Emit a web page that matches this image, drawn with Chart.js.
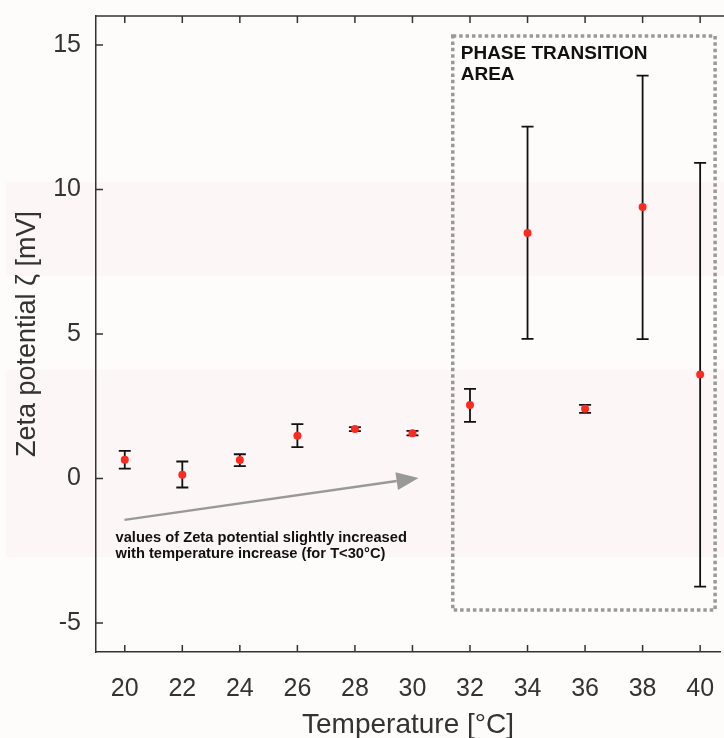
<!DOCTYPE html>
<html>
<head>
<meta charset="utf-8">
<script src="https://cdn.jsdelivr.net/npm/chart.js@4/dist/chart.umd.min.js"></script>
<style>
  html, body { margin: 0; padding: 0; background: #fdfcfb; }
  canvas { display: block; }
</style>
</head>
<body>
<canvas id="zetaChart" width="724" height="738"></canvas>
<script>
// temperature [°C] and zeta potential [mV], with error bar ends
const temps    = [20, 22, 24, 26, 28, 30, 32, 34, 36, 38, 40];
const zeta     = [0.65, 0.13, 0.64, 1.48, 1.71, 1.57, 2.54, 8.49, 2.41, 9.39, 3.6];
const zetaLow  = [0.34, -0.31, 0.43, 1.09, 1.64, 1.49, 1.96, 4.83, 2.27, 4.82, -3.74];
const zetaHigh = [0.96, 0.59, 0.84, 1.88, 1.78, 1.65, 3.1, 12.17, 2.55, 13.94, 10.92];

const xTicks = [20, 22, 24, 26, 28, 30, 32, 34, 36, 38, 40];
const yTicks = [-5, 0, 5, 10, 15];

const axisColor = '#333333';
const fontFamily = '"Liberation Sans", Arial, Helvetica, sans-serif';

const decorPlugin = {
  id: 'decor',
  beforeDraw(chart) {
    const ctx = chart.ctx;
    const y = chart.scales.y;
    ctx.save();
    ctx.fillStyle = '#fdfcfb';
    ctx.fillRect(0, 0, chart.width, chart.height);
    // faint pink bands
    ctx.fillStyle = '#fcf6f6';
    [[10.26, 7.01], [3.76, -2.71]].forEach(([a, b]) => {
      const y1 = y.getPixelForValue(a), y2 = y.getPixelForValue(b);
      ctx.fillRect(6, y1, chart.width, y2 - y1);
    });
    ctx.restore();
  },
  beforeDatasetsDraw(chart) {
    const ctx = chart.ctx;
    const x = chart.scales.x, y = chart.scales.y;
    ctx.save();
    ctx.strokeStyle = '#111111';
    ctx.lineWidth = 1.8;
    temps.forEach((t, i) => {
      const px = x.getPixelForValue(t);
      const lo = y.getPixelForValue(zetaLow[i]);
      const hi = y.getPixelForValue(zetaHigh[i]);
      ctx.beginPath();
      ctx.moveTo(px, lo); ctx.lineTo(px, hi);
      ctx.moveTo(px - 6, lo); ctx.lineTo(px + 6, lo);
      ctx.moveTo(px - 6, hi); ctx.lineTo(px + 6, hi);
      ctx.stroke();
    });
    ctx.restore();
  },
  afterDraw(chart) {
    const ctx = chart.ctx;
    const x = chart.scales.x, y = chart.scales.y;
    const area = chart.chartArea;
    ctx.save();

    // top border and inward tick marks
    ctx.strokeStyle = axisColor;
    ctx.lineWidth = 1.5;
    ctx.beginPath();
    ctx.moveTo(area.left, area.top); ctx.lineTo(chart.width, area.top);
    xTicks.forEach(v => {
      const px = x.getPixelForValue(v);
      ctx.moveTo(px, area.bottom); ctx.lineTo(px, area.bottom - 7);
      ctx.moveTo(px, area.top); ctx.lineTo(px, area.top + 7);
    });
    yTicks.forEach(v => {
      const py = y.getPixelForValue(v);
      ctx.moveTo(area.left, py); ctx.lineTo(area.left + 7, py);
    });
    ctx.stroke();

    // dotted box around the phase transition area
    ctx.strokeStyle = '#999999';
    ctx.lineWidth = 3.5;
    ctx.setLineDash([3.5, 2.9]);
    const bx1 = x.getPixelForValue(31.4), bx2 = x.getPixelForValue(40.52);
    const by1 = y.getPixelForValue(15.31), by2 = y.getPixelForValue(-4.55);
    ctx.strokeRect(bx1, by1, bx2 - bx1, by2 - by1);
    ctx.setLineDash([]);

    // arrow
    const ax1 = x.getPixelForValue(19.99), ay1 = y.getPixelForValue(-1.43);
    const ax2 = x.getPixelForValue(30.21), ay2 = y.getPixelForValue(0.02);
    const ang = Math.atan2(ay2 - ay1, ax2 - ax1);
    const headLen = 22, headW = 9;
    const bxh = ax2 - headLen * Math.cos(ang), byh = ay2 - headLen * Math.sin(ang);
    ctx.strokeStyle = '#999999';
    ctx.fillStyle = '#999999';
    ctx.lineWidth = 2.5;
    ctx.beginPath();
    ctx.moveTo(ax1, ay1); ctx.lineTo(bxh, byh);
    ctx.stroke();
    ctx.beginPath();
    ctx.moveTo(ax2, ay2);
    ctx.lineTo(bxh + headW * Math.sin(ang), byh - headW * Math.cos(ang));
    ctx.lineTo(bxh - headW * Math.sin(ang), byh + headW * Math.cos(ang));
    ctx.closePath();
    ctx.fill();

    // texts
    ctx.fillStyle = '#111111';
    ctx.textBaseline = 'alphabetic';
    ctx.textAlign = 'left';
    ctx.font = 'bold 19px ' + fontFamily;
    ctx.fillText('PHASE TRANSITION', bx1 + 8, by1 + 23);
    ctx.fillText('AREA', bx1 + 8, by1 + 44);
    ctx.font = 'bold 14.7px ' + fontFamily;
    ctx.fillText('values of Zeta potential slightly increased', ax1 - 9, ay1 + 22);
    ctx.fillText('with temperature increase (for T<30°C)', ax1 - 9, ay1 + 38);
    ctx.restore();
  }
};

new Chart(document.getElementById('zetaChart'), {
  type: 'scatter',
  data: {
    datasets: [{
      data: temps.map((t, i) => ({ x: t, y: zeta[i] })),
      backgroundColor: '#ff2a1f',
      borderWidth: 0,
      pointRadius: 4,
      pointHoverRadius: 4,
    }]
  },
  options: {
    responsive: false,
    animation: false,
    devicePixelRatio: 1,
    layout: { padding: { top: 16, right: 0, left: 0, bottom: 0 } },
    plugins: { legend: { display: false }, tooltip: { enabled: false } },
    scales: {
      x: {
        type: 'linear',
        min: 19,
        max: 40.69,
        afterBuildTicks: s => { s.ticks = xTicks.map(v => ({ value: v })); },
        afterFit: s => { s.height = 86; s.paddingLeft = 0; s.paddingRight = 0; },
        grid: { display: false },
        border: { display: true, color: axisColor, width: 1.5 },
        ticks: { color: axisColor, font: { family: fontFamily, size: 25 }, padding: 14, maxRotation: 0 },
        title: { display: true, text: 'Temperature [°C]', color: axisColor,
                 font: { family: fontFamily, size: 28 }, padding: { top: 0, bottom: -4 } }
      },
      y: {
        min: -6,
        max: 16,
        afterBuildTicks: s => { s.ticks = yTicks.map(v => ({ value: v })); },
        afterFit: s => { s.width = 96; s.paddingTop = 0; s.paddingBottom = 0; },
        grid: { display: false },
        border: { display: true, color: axisColor, width: 1.5 },
        ticks: { color: axisColor, font: { family: fontFamily, size: 25 }, padding: 7 },
        title: { display: true, text: 'Zeta potential ζ [mV]', color: axisColor,
                 font: { family: fontFamily, size: 27 }, padding: { top: 11, bottom: 0 } }
      }
    }
  },
  plugins: [decorPlugin]
});
</script>
</body>
</html>
